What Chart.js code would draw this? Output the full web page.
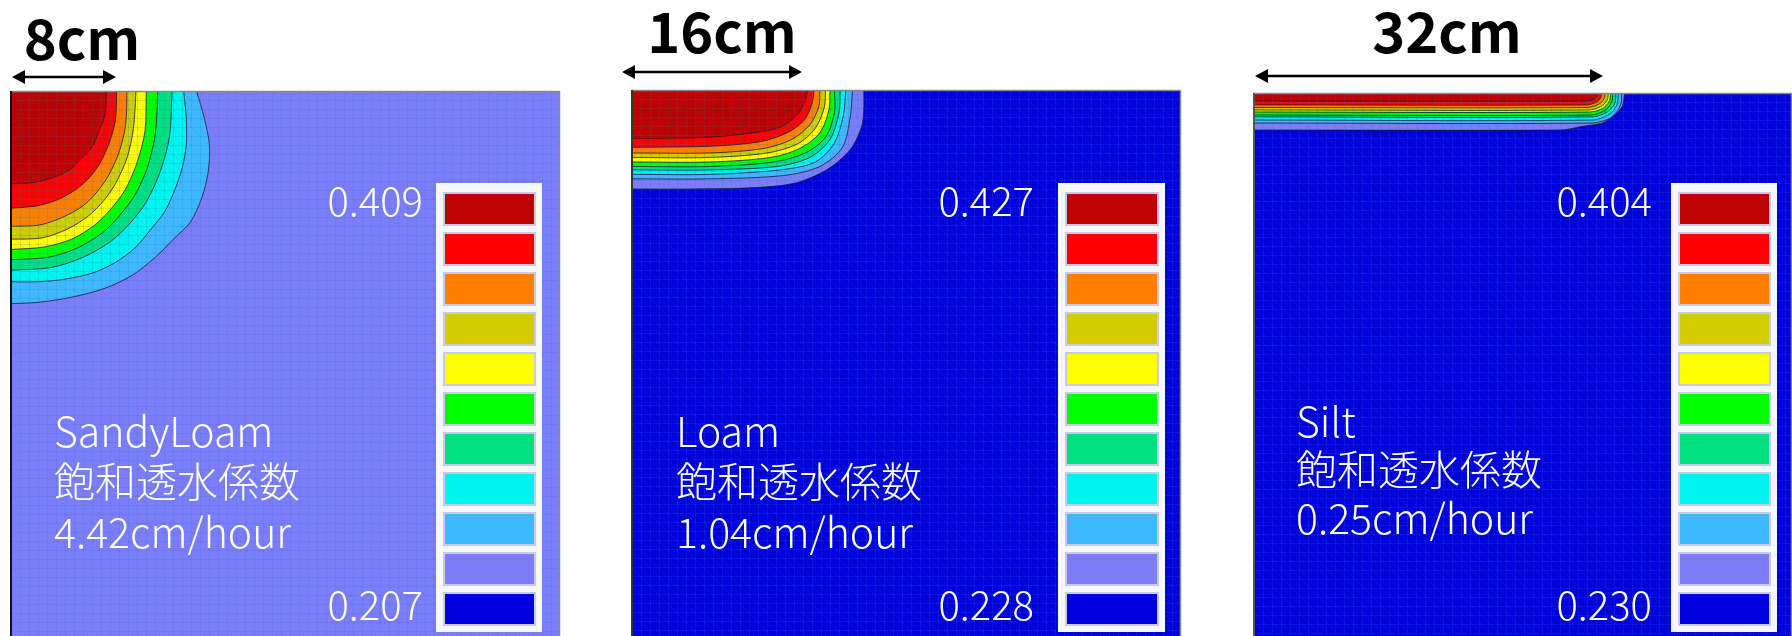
<!DOCTYPE html>
<html>
<head>
<meta charset="utf-8">
<script src="https://cdn.jsdelivr.net/npm/chart.js@4.4.1/dist/chart.umd.min.js"></script>
<style>
  html, body { margin: 0; padding: 0; background: #fff; overflow: hidden; width: 1792px; height: 636px; }
  canvas { position: absolute; top: 0; }
</style>
</head>
<body>
<canvas id="c1" width="600" height="640" style="left:0px"></canvas>
<canvas id="c2" width="600" height="640" style="left:600px"></canvas>
<canvas id="c3" width="592" height="640" style="left:1200px"></canvas>
<script>
// ---- data ---------------------------------------------------------------
// soil types and their saturated hydraulic conductivity
const soilNames = ['SandyLoam', 'Loam', 'Silt'];
const conductivity = ['4.42cm/hour', '1.04cm/hour', '0.25cm/hour'];
// width of the wetted strip at the surface
const sourceWidths = ['8cm', '16cm', '32cm'];
// colour-bar range of volumetric water content
const legendMax = [0.409, 0.427, 0.404];
const legendMin = [0.207, 0.228, 0.230];
// colour levels, wettest first
const levelColors = ['#be0000', '#ff0000', '#ff8000', '#d2cd00', '#ffff00', '#00ff00',
                     '#00e080', '#00f5f0', '#40b8ff', '#7d7dfa', '#0000dc'];
// level filling the rest of each section (index into levelColors)
const backgroundLevel = [9, 10, 10];
// section size in cm (width, depth)
const sectionWidth = [42.6, 48.8, 49.5];
const sectionDepth = [42.6, 48.9, 50.3];

// contour boundaries as [distance from left edge cm, depth cm], wettest first
const sandyLoamContours = [
  [[0,7.2],[1.8,7.1],[3.3,6.7],[4.6,6.1],[5.4,5.3],[6.2,4.5],[6.8,3.2],[7.3,1.8],[7.4,0]],
  [[0,9.1],[2.1,8.9],[3.7,8.4],[5.1,7.6],[6.1,6.7],[6.9,5.6],[7.6,4.1],[8.1,2.3],[8.2,0]],
  [[0,10.5],[2.2,10.4],[4.0,9.8],[5.6,8.9],[6.7,7.8],[7.6,6.5],[8.4,4.7],[8.9,2.6],[9.0,0]],
  [[0,11.5],[2.4,11.4],[4.4,10.7],[6.0,9.7],[7.2,8.5],[8.1,7.2],[9.0,5.2],[9.5,2.9],[9.7,0]],
  [[0,12.3],[2.6,12.1],[4.7,11.5],[6.5,10.4],[7.8,9.1],[8.9,7.6],[9.8,5.5],[10.4,3.1],[10.5,0]],
  [[0,13.1],[2.9,12.9],[5.1,12.2],[7.1,11.0],[8.4,9.7],[9.6,8.1],[10.6,5.9],[11.2,3.3],[11.4,0]],
  [[0,13.9],[3.1,13.7],[5.6,12.9],[7.7,11.7],[9.2,10.3],[10.5,8.6],[11.6,6.2],[12.3,3.5],[12.5,0]],
  [[0,14.8],[2.1,14.8],[4.2,14.6],[6.4,14.1],[8.1,13.3],[9.6,12.2],[10.8,10.8],[11.9,9.4],[12.7,7.7],
   [13.3,5.9],[13.6,4.2],[13.6,2.1],[13.4,0]],
  [[0,16.5],[2.1,16.4],[4.7,16.0],[7.3,15.3],[9.4,14.3],[11.2,12.9],[12.7,11.4],[13.9,10.2],[14.8,8.3],
   [15.3,6.3],[15.4,4.2],[15.0,2.1],[14.4,0]]
];
const loamContours = [
  [[0,4.3],[2.5,4.3],[6.9,4.2],[10.8,3.8],[13.2,3.3],[14.7,2.2],[15.4,0.9],[15.6,0]],
  [[0,5.1],[6.9,5.0],[11.4,4.6],[13.8,3.8],[15.3,2.7],[16.0,1.2],[16.2,0]],
  [[0,5.6],[6.9,5.6],[11.7,5.2],[14.2,4.4],[15.8,3.1],[16.6,1.5],[16.7,0]],
  [[0,6.0],[6.9,6.0],[12.0,5.6],[14.7,4.8],[16.3,3.4],[17.1,1.5],[17.2,0]],
  [[0,6.4],[6.9,6.4],[12.3,6.0],[14.9,5.2],[16.7,3.8],[17.5,1.8],[17.6,0]],
  [[0,6.8],[6.9,6.8],[12.6,6.4],[15.4,5.6],[17.2,4.2],[18.0,2.0],[18.0,0]],
  [[0,7.1],[6.9,7.1],[12.9,6.8],[15.8,6.0],[17.6,4.4],[18.4,2.0],[18.5,0]],
  [[0,7.5],[6.9,7.5],[13.2,7.1],[16.3,6.4],[18.0,4.7],[18.8,2.2],[19.0,0]],
  [[0,7.9],[6.9,7.9],[13.5,7.6],[16.7,6.8],[18.7,5.1],[19.4,2.4],[19.6,0]],
  [[0,8.8],[5.5,8.8],[10.5,8.7],[14.4,8.3],[17.3,7.1],[19.4,5.3],[20.4,3.3],[20.6,1.8],[20.6,0]]
];
const siltContours = [
  [[0,0.74],[30.5,0.74],[31.2,0.6],[31.5,0.35],[31.6,0]],
  [[0,1.1],[30.6,1.1],[31.5,0.85],[31.9,0.45],[32.0,0]],
  [[0,1.33],[30.7,1.33],[31.7,1.05],[32.2,0.55],[32.3,0]],
  [[0,1.56],[30.8,1.56],[31.9,1.25],[32.5,0.65],[32.6,0]],
  [[0,1.75],[30.9,1.75],[32.1,1.4],[32.7,0.75],[32.8,0]],
  [[0,2.02],[31.0,2.02],[32.3,1.6],[32.9,0.85],[33.0,0]],
  [[0,2.2],[31.1,2.2],[32.5,1.75],[33.2,0.95],[33.3,0]],
  [[0,2.48],[31.2,2.48],[32.7,1.95],[33.4,1.05],[33.5,0]],
  [[0,2.76],[31.0,2.76],[32.6,2.4],[33.4,1.7],[33.8,0.8],[33.8,0]],
  [[0,3.4],[28.2,3.4],[30.3,3.05],[32.1,2.75],[32.7,2.3],[33.2,2.0],[33.9,1.2],[34.1,0]]
];
const allContours = [sandyLoamContours, loamContours, siltContours];

// ---- page layout (canvas pixels) -----------------------------------------
const layouts = [
  { canvas: 'c1', pad: { left: 11, right: 40, top: 91 }, title: { x: 82, y: 60 }, arrow: { y: 77, x0: 12, x1: 116 },
    bar: { x: 436, w: 106, labelRight: 423 }, text: { x: 54, y: [447, 497, 548] }, leftEdge: '#111' },
  { canvas: 'c2', pad: { left: 32, right: 19, top: 90 }, title: { x: 122, y: 53 }, arrow: { y: 72, x0: 22, x1: 202 },
    bar: { x: 458, w: 107, labelRight: 434 }, text: { x: 76, y: [447, 497, 548] }, leftEdge: '#333' },
  { canvas: 'c3', pad: { left: 54, right: 0, top: 93 }, title: { x: 247, y: 53 }, arrow: { y: 76, x0: 55, x1: 403 },
    bar: { x: 471, w: 106, labelRight: 452 }, text: { x: 96, y: [437, 485, 534] }, leftEdge: '#555' }
];

const LIGHT = '"Noto Sans CJK JP", "Noto Sans", sans-serif';

function drawArrow(ctx, x0, x1, y) {
  const head = 13, half = 7;
  ctx.save();
  ctx.strokeStyle = '#000';
  ctx.fillStyle = '#000';
  ctx.lineWidth = 2.5;
  ctx.beginPath();
  ctx.moveTo(x0 + head - 2, y);
  ctx.lineTo(x1 - head + 2, y);
  ctx.stroke();
  ctx.beginPath();
  ctx.moveTo(x0, y); ctx.lineTo(x0 + head, y - half); ctx.lineTo(x0 + head, y + half); ctx.closePath();
  ctx.fill();
  ctx.beginPath();
  ctx.moveTo(x1, y); ctx.lineTo(x1 - head, y - half); ctx.lineTo(x1 - head, y + half); ctx.closePath();
  ctx.fill();
  ctx.restore();
}

// section background, finite-element mesh, frame and annotations
const sectionPlugin = {
  id: 'section',
  beforeDatasetsDraw(chart, args, opts) {
    const a = chart.chartArea, ctx = chart.ctx;
    ctx.save();
    ctx.fillStyle = opts.background;
    ctx.fillRect(a.left, a.top, a.right - a.left, a.bottom - a.top);
    ctx.restore();
  },
  afterDatasetsDraw(chart, args, opts) {
    const a = chart.chartArea, ctx = chart.ctx;
    const L = opts.layout;
    // mesh
    ctx.save();
    ctx.beginPath();
    ctx.rect(a.left, a.top, a.right - a.left, a.bottom - a.top);
    ctx.clip();
    const step = 9;
    ctx.lineWidth = 1;
    ctx.strokeStyle = 'rgba(30,120,190,0.18)';
    ctx.beginPath();
    for (let x = a.left + step; x < a.right; x += step) { ctx.moveTo(x + 0.5, a.top); ctx.lineTo(x + 0.5, a.bottom); }
    for (let y = a.top + step; y < a.bottom; y += step) { ctx.moveTo(a.left, y + 0.5); ctx.lineTo(a.right, y + 0.5); }
    ctx.stroke();
    ctx.strokeStyle = 'rgba(30,120,190,0.11)';
    ctx.beginPath();
    const h = a.bottom - a.top;
    for (let x = a.left - h; x < a.right; x += step) { ctx.moveTo(x, a.top); ctx.lineTo(x + h, a.bottom); }
    ctx.stroke();
    ctx.restore();

    // frame
    ctx.save();
    ctx.strokeStyle = '#8a8a8a';
    ctx.lineWidth = 1.5;
    ctx.beginPath();
    ctx.moveTo(a.left, a.top + 0.5); ctx.lineTo(a.right, a.top + 0.5);
    ctx.moveTo(a.right - 0.5, a.top); ctx.lineTo(a.right - 0.5, a.bottom);
    ctx.stroke();
    ctx.strokeStyle = L.leftEdge;
    ctx.lineWidth = 2;
    ctx.beginPath();
    ctx.moveTo(a.left, a.top); ctx.lineTo(a.left, a.bottom);
    ctx.stroke();
    ctx.restore();

    // width of the wetted strip
    ctx.save();
    ctx.fillStyle = '#000';
    ctx.font = 'bold 56px ' + LIGHT;
    ctx.textAlign = 'center';
    ctx.textBaseline = 'alphabetic';
    ctx.fillText(opts.widthLabel, L.title.x, L.title.y);
    ctx.restore();
    drawArrow(ctx, L.arrow.x0, L.arrow.x1, L.arrow.y);

    // colour bar
    const b = L.bar, top = 183, bottom = 632;
    ctx.save();
    ctx.fillStyle = '#f7f8ff';
    ctx.fillRect(b.x, top, b.w, bottom - top);
    levelColors.forEach((c, i) => {
      const y = 193 + i * 40;
      ctx.fillStyle = '#c9cbe6';
      ctx.fillRect(b.x + 7, y - 1, b.w - 13, 34);
      ctx.fillStyle = c;
      ctx.fillRect(b.x + 9, y + 1, b.w - 17, 30);
    });
    ctx.fillStyle = '#fff';
    ctx.font = '300 40px ' + LIGHT;
    ctx.textAlign = 'right';
    ctx.textBaseline = 'middle';
    ctx.fillText(opts.maxLabel, b.labelRight, 201);
    ctx.fillText(opts.minLabel, b.labelRight, 605);

    // soil description
    ctx.textAlign = 'left';
    ctx.textBaseline = 'alphabetic';
    ctx.font = '300 41px ' + LIGHT;
    opts.lines.forEach((t, i) => ctx.fillText(t, L.text.x, L.text.y[i]));
    ctx.restore();
  }
};

// Each contour is traced from the surface down to the left edge and filled
// towards the left edge (x = 0), so bulging boundaries are filled completely.
function contourDatasets(contours) {
  return contours.map((pts, i) => ({
    data: pts.slice().reverse().map(([x, d]) => ({ x: x, y: -d })),
    indexAxis: 'y',
    showLine: true,
    fill: { value: 0 },
    tension: 0.3,
    backgroundColor: levelColors[i],
    borderColor: 'rgba(25,25,45,0.8)',
    borderWidth: 1,
    pointRadius: 0
  }));
}

layouts.forEach((L, p) => {
  new Chart(document.getElementById(L.canvas), {
    type: 'scatter',
    data: { datasets: contourDatasets(allContours[p]) },
    options: {
      responsive: false,
      animation: false,
      events: [],
      layout: { padding: { left: L.pad.left, right: L.pad.right, top: L.pad.top, bottom: 0 } },
      scales: {
        x: { type: 'linear', min: 0, max: sectionWidth[p], display: false },
        y: { type: 'linear', min: -sectionDepth[p], max: 0, display: false }
      },
      plugins: {
        legend: { display: false },
        tooltip: { enabled: false },
        section: {
          layout: L,
          background: levelColors[backgroundLevel[p]],
          widthLabel: sourceWidths[p],
          maxLabel: legendMax[p].toFixed(3),
          minLabel: legendMin[p].toFixed(3),
          lines: [soilNames[p], '飽和透水係数', conductivity[p]]
        }
      }
    },
    plugins: [sectionPlugin]
  });
});
</script>
</body>
</html>
